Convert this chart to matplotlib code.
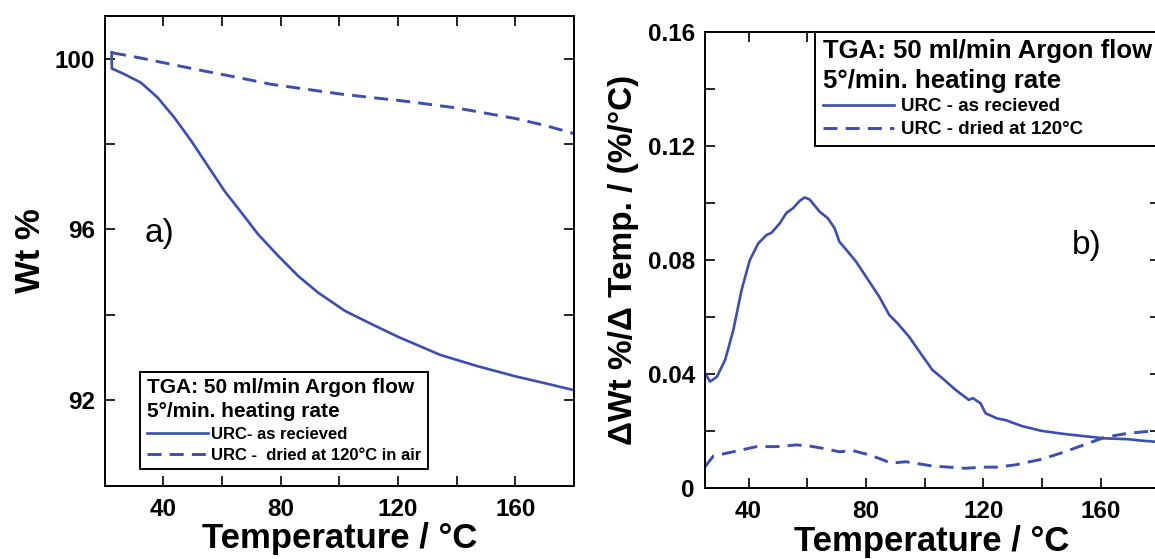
import numpy as np
import matplotlib
matplotlib.use("Agg")
from matplotlib import pyplot as plt
from matplotlib.ticker import MultipleLocator, FixedLocator, FixedFormatter

# ---- panel a) weight % vs temperature
temp_a_recv = [22.4, 22.5, 26.7, 32.4, 38.1, 43.8, 49.5, 55.2, 60.9, 66.6, 72.3,
               79.2, 86.0, 92.8, 102.0, 111.1, 120.2, 134.5, 147.0, 160.0, 170.0, 180.3]
wt_a_recv = [100.15, 99.77, 99.64, 99.44, 99.09, 98.62, 98.08, 97.49, 96.90, 96.40, 95.89,
             95.38, 94.91, 94.52, 94.09, 93.78, 93.48, 93.06, 92.80, 92.56, 92.40, 92.23]

temp_a_dried = [22.6, 31.3, 42.7, 54.1, 65.5, 76.9, 88.3, 99.7, 111.1, 121.9,
                139.7, 160.0, 170.0, 180.3]
wt_a_dried = [100.14, 100.03, 99.87, 99.71, 99.56, 99.40, 99.29, 99.18, 99.09, 99.01,
              98.85, 98.60, 98.44, 98.24]

# ---- panel b) derivative
temp_b_recv = [25.2, 26.9, 29.2, 32.0, 34.8, 37.6, 40.4, 43.3, 46.1, 47.8, 50.6, 52.9,
               55.1, 57.4, 59.1, 60.8, 64.2, 67.0, 69.3, 70.9, 73.8, 76.6, 80.0, 84.5,
               87.9, 90.7, 94.7, 98.6, 102.6, 106.0, 110.5, 115.0, 116.4, 119.0, 120.7,
               124.6, 127.5, 133.1, 139.9, 147.8, 155.7, 161.4, 169.3, 173.8, 180.0]
dwt_b_recv = [0.0401, 0.0372, 0.0389, 0.0448, 0.0553, 0.0693, 0.0798, 0.0857, 0.0886,
              0.0894, 0.0927, 0.0964, 0.0980, 0.1006, 0.1018, 0.1011, 0.0968, 0.0945,
              0.0910, 0.0863, 0.0828, 0.0793, 0.0740, 0.0670, 0.0606, 0.0577, 0.0529,
              0.0471, 0.0413, 0.0384, 0.0343, 0.0308, 0.0314, 0.0296, 0.0261, 0.0243,
              0.0237, 0.0216, 0.0199, 0.0188, 0.0179, 0.0173, 0.0170, 0.0165, 0.0160]

temp_b_dried = [25.2, 28.0, 34.8, 42.7, 49.5, 56.3, 60.8, 65.3, 70.9, 75.5, 81.1, 85.1,
                88.5, 93.6, 102.6, 113.9, 119.5, 124.6, 130.8, 139.9, 147.8, 155.7,
                161.4, 169.3, 180.0]
dwt_b_dried = [0.0074, 0.0111, 0.0126, 0.0144, 0.0144, 0.0150, 0.0146, 0.0138, 0.0126,
               0.0130, 0.0115, 0.0100, 0.0086, 0.0091, 0.0076, 0.0068, 0.0072, 0.0072,
               0.0080, 0.0100, 0.0126, 0.0156, 0.0177, 0.0191, 0.0201]

x_ticks = [40, 80, 120, 160]
b_yticks = [0, 0.04, 0.08, 0.12, 0.16]
b_yticklabels = ["0", "0.04", "0.08", "0.12", "0.16"]

blue = "#3b4fb3"
plt.rcParams["font.family"] = ["Liberation Sans", "DejaVu Sans"]
plt.rcParams["font.weight"] = "bold"

fig = plt.figure(figsize=(11.55, 5.59), dpi=100)
ax0 = fig.add_axes([0.0905, 0.1313, 0.4065, 0.840])
ax1 = fig.add_axes([0.610, 0.1276, 0.394, 0.816])

def style_axes(ax):
    for s in ax.spines.values():
        s.set_linewidth(1.4)
    ax.tick_params(which="both", direction="in", top=True, right=True,
                   length=7, width=1.2, labelsize=17.5)
    ax.tick_params(axis="x", pad=9)
    ax.tick_params(axis="y", pad=7)
    for lab in ax.get_xticklabels() + ax.get_yticklabels():
        lab.set_fontweight("bold")

# panel a
l1, = ax0.plot(temp_a_recv, wt_a_recv, color=blue, lw=1.9)
l2, = ax0.plot(temp_a_dried, wt_a_dried, color=blue, lw=2.1, dashes=(4.8, 2.8))
ax0.set_xlim(20, 180)
ax0.set_ylim(90, 101)
ax0.xaxis.set_major_locator(FixedLocator(x_ticks))
ax0.xaxis.set_minor_locator(FixedLocator([60, 100, 140]))
ax0.yaxis.set_major_locator(FixedLocator([92, 96, 100]))
ax0.yaxis.set_minor_locator(FixedLocator([94, 98]))
style_axes(ax0)
ax0.set_xlabel("Temperature / °C", fontsize=25, fontweight="bold", labelpad=1)
ax0.set_ylabel("Wt %", fontsize=25, fontweight="bold", labelpad=5)
ax0.text(33.5, 95.9, "a)", fontsize=24, fontweight="normal", ha="left", va="center")
leg0 = ax0.legend([l1, l2], ["URC- as recieved", "URC -  dried at 120°C in air"],
                  title="TGA: 50 ml/min Argon flow\n5°/min. heating rate",
                  title_fontproperties={"size": 15, "weight": "bold"},
                  prop={"size": 12, "weight": "bold"}, alignment="left",
                  loc="lower left", bbox_to_anchor=(0.0756, 0.035), borderaxespad=0,
                  handlelength=3.7, handletextpad=0.15, labelspacing=0.35,
                  borderpad=0.4, fancybox=False, framealpha=1, edgecolor="black")
leg0.get_title().set_linespacing(1.3)
leg0.get_frame().set_linewidth(1.4)

# panel b
m1, = ax1.plot(temp_b_recv, dwt_b_recv, color=blue, lw=1.9)
m2, = ax1.plot(temp_b_dried, dwt_b_dried, color=blue, lw=2.1, dashes=(4.8, 2.8))
ax1.set_xlim(25, 180)
ax1.set_ylim(0, 0.16)
ax1.xaxis.set_major_locator(FixedLocator(x_ticks))
ax1.xaxis.set_minor_locator(FixedLocator([60, 100, 140]))
ax1.yaxis.set_major_locator(FixedLocator(b_yticks))
ax1.yaxis.set_major_formatter(FixedFormatter(b_yticklabels))
ax1.yaxis.set_minor_locator(FixedLocator([0.02, 0.06, 0.10, 0.14]))
style_axes(ax1)
ax1.set_xlabel("Temperature / °C", fontsize=25, fontweight="bold", labelpad=1)
ax1.set_ylabel("ΔWt %/Δ Temp. / (%/°C)", fontsize=24, fontweight="bold", labelpad=6)
ax1.text(150, 0.085, "b)", fontsize=24, fontweight="normal", ha="left", va="center")
leg1 = ax1.legend([m1, m2], ["URC - as recieved", "URC - dried at 120°C"],
                  title="TGA: 50 ml/min Argon flow\n5°/min. heating rate",
                  title_fontproperties={"size": 18.5, "weight": "bold"},
                  prop={"size": 13.5, "weight": "bold"}, alignment="left",
                  loc="upper right", borderaxespad=0,
                  handlelength=3.8, handletextpad=0.35, labelspacing=0.3,
                  borderpad=0.4, fancybox=False, framealpha=1, edgecolor="black")
leg1.get_title().set_linespacing(1.3)
leg1.get_frame().set_linewidth(1.4)

fig.savefig("out.png", dpi=100)
